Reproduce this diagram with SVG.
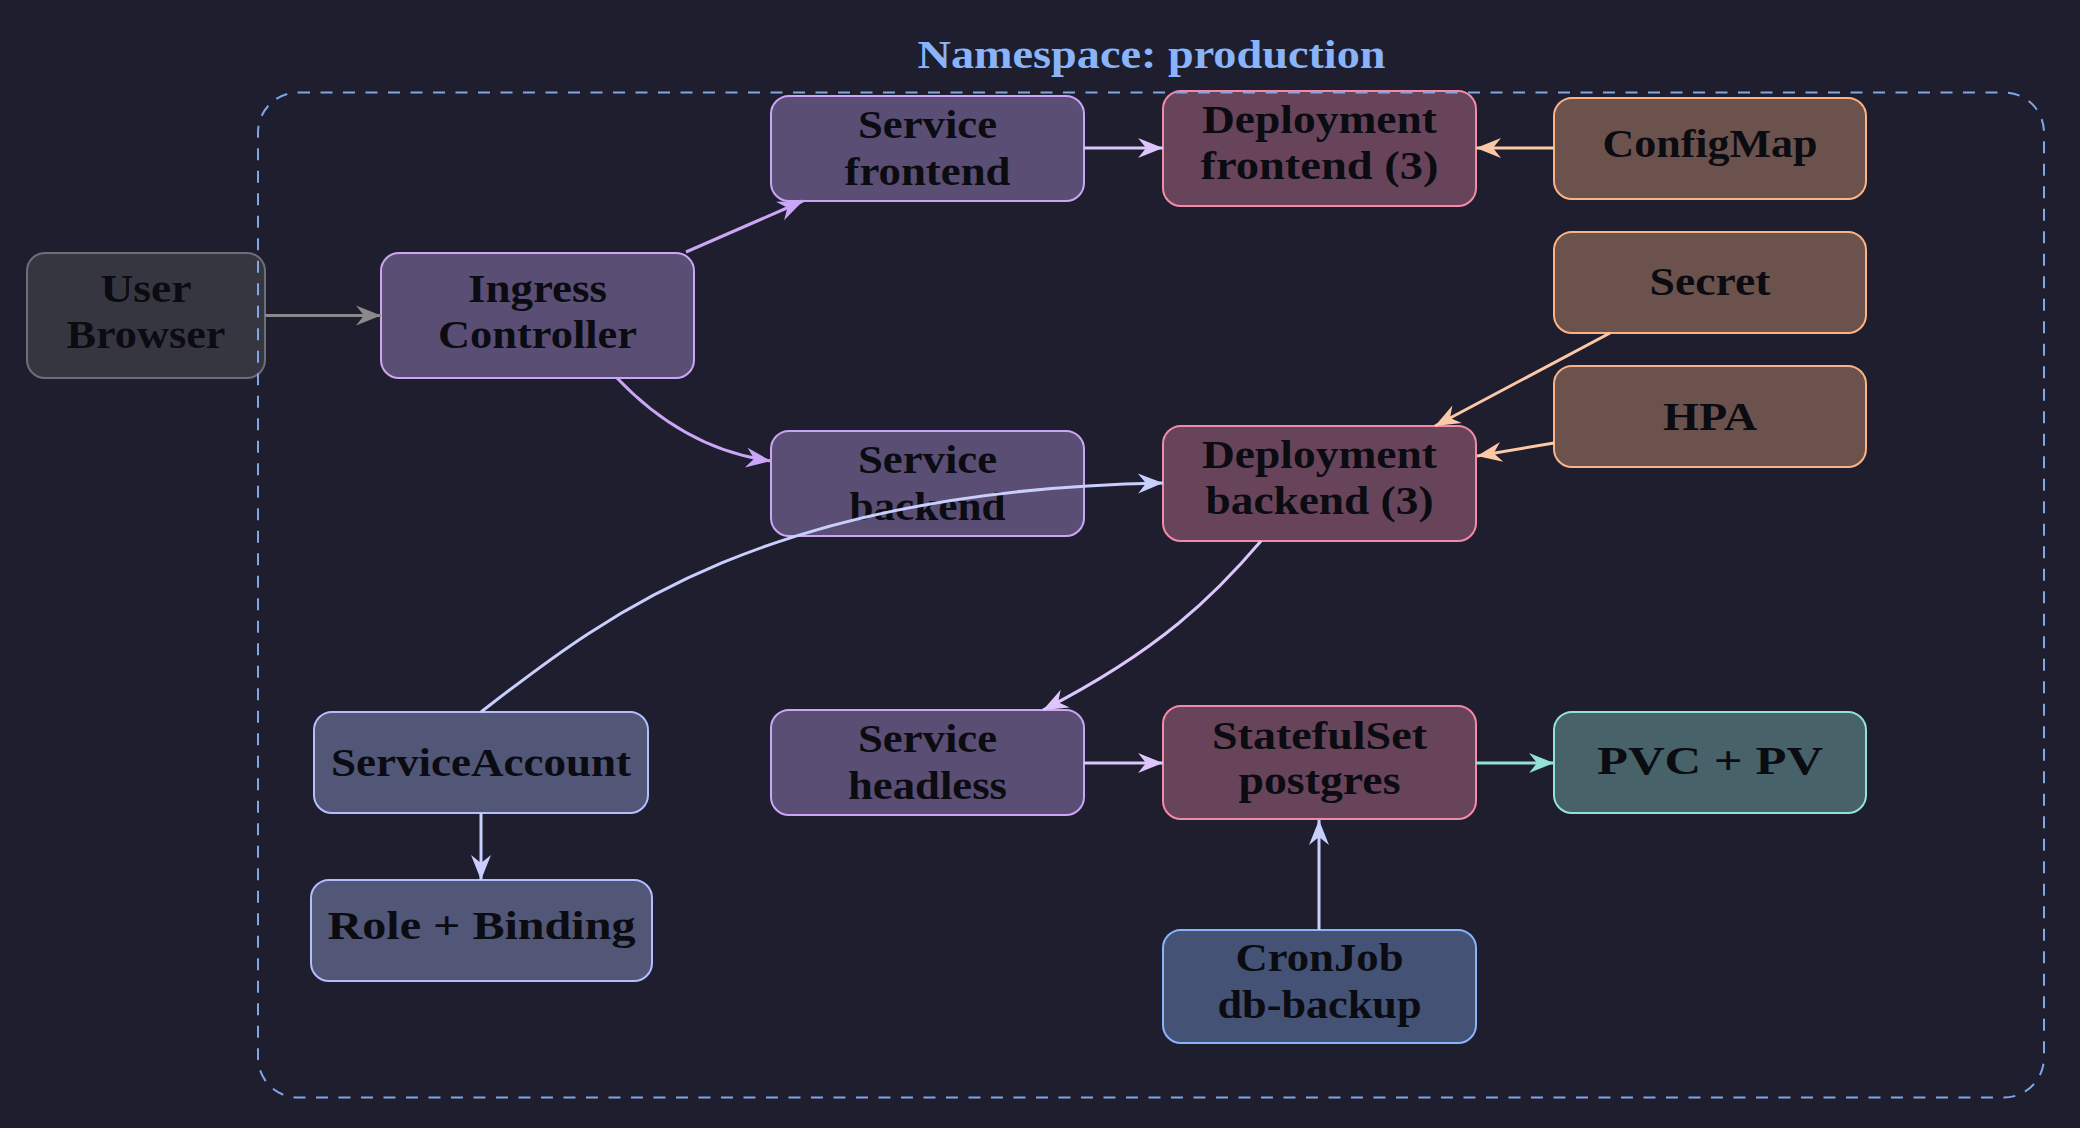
<svg xmlns="http://www.w3.org/2000/svg" width="2080" height="1128" viewBox="0 0 2080 1128">
<style>
  .node rect { stroke-width: 2; }
  .lbl { font-family: "Liberation Serif", "Times New Roman", serif; font-weight: bold; font-size: 39px; fill: #0b0b12; text-anchor: middle; }
  .gray rect { fill: #363641; stroke: #6c6e78; }
  .mauve rect { fill: #5a4e74; stroke: #cba6f7; }
  .pink rect { fill: #68445a; stroke: #f38ba8; }
  .peach rect { fill: #6b524d; stroke: #fab387; }
  .lav rect { fill: #525677; stroke: #b4befe; }
  .blue rect { fill: #445275; stroke: #89b4fa; }
  .teal rect { fill: #476268; stroke: #94e2d5; }
  .edge { fill: none; stroke-width: 3; }
  .title { font-family: "Liberation Serif", "Times New Roman", serif; font-weight: bold; font-size: 39px; fill: #89b4fa; text-anchor: middle; }
</style>
<defs>
  <marker id="aGray" markerUnits="userSpaceOnUse" viewBox="-27 -12 29 24" markerWidth="29" markerHeight="24" refX="0" refY="0" orient="auto"><path d="M0,0 L-25,-10 L-17,0 L-25,10 Z" fill="#8a8a8e"/></marker>
  <marker id="aMauve" markerUnits="userSpaceOnUse" viewBox="-27 -12 29 24" markerWidth="29" markerHeight="24" refX="0" refY="0" orient="auto"><path d="M0,0 L-25,-10 L-17,0 L-25,10 Z" fill="#cba6f7"/></marker>
  <marker id="aLMauve" markerUnits="userSpaceOnUse" viewBox="-27 -12 29 24" markerWidth="29" markerHeight="24" refX="0" refY="0" orient="auto"><path d="M0,0 L-25,-10 L-17,0 L-25,10 Z" fill="#dcc6fb"/></marker>
  <marker id="aPeach" markerUnits="userSpaceOnUse" viewBox="-27 -12 29 24" markerWidth="29" markerHeight="24" refX="0" refY="0" orient="auto"><path d="M0,0 L-25,-10 L-17,0 L-25,10 Z" fill="#fcc8a6"/></marker>
  <marker id="aLav" markerUnits="userSpaceOnUse" viewBox="-27 -12 29 24" markerWidth="29" markerHeight="24" refX="0" refY="0" orient="auto"><path d="M0,0 L-25,-10 L-17,0 L-25,10 Z" fill="#c9cffd"/></marker>
  <marker id="aTeal" markerUnits="userSpaceOnUse" viewBox="-27 -12 29 24" markerWidth="29" markerHeight="24" refX="0" refY="0" orient="auto"><path d="M0,0 L-25,-10 L-17,0 L-25,10 Z" fill="#94e2d5"/></marker>
</defs>
<rect x="0" y="0" width="2080" height="1128" fill="#1e1e2e"/>

<g id="nodes">
  <g id="user-browser" class="node gray">
    <rect x="27" y="253" width="238" height="125" rx="18"/>
    <text class="lbl" x="146" y="302" textLength="91" lengthAdjust="spacingAndGlyphs">User</text>
    <text class="lbl" x="146" y="348" textLength="159" lengthAdjust="spacingAndGlyphs">Browser</text>
  </g>
  <g id="ingress-controller" class="node mauve">
    <rect x="381" y="253" width="313" height="125" rx="18"/>
    <text class="lbl" x="537.5" y="302" textLength="139" lengthAdjust="spacingAndGlyphs">Ingress</text>
    <text class="lbl" x="537.5" y="348" textLength="199" lengthAdjust="spacingAndGlyphs">Controller</text>
  </g>
  <g id="service-frontend" class="node mauve">
    <rect x="771" y="96" width="313" height="105" rx="18"/>
    <text class="lbl" x="927.5" y="137.5" textLength="139" lengthAdjust="spacingAndGlyphs">Service</text>
    <text class="lbl" x="927.5" y="185" textLength="166" lengthAdjust="spacingAndGlyphs">frontend</text>
  </g>
  <g id="service-backend" class="node mauve">
    <rect x="771" y="431" width="313" height="105" rx="18"/>
    <text class="lbl" x="927.5" y="473" textLength="139" lengthAdjust="spacingAndGlyphs">Service</text>
    <text class="lbl" x="927.5" y="519.5" textLength="156" lengthAdjust="spacingAndGlyphs">backend</text>
  </g>
  <g id="service-headless" class="node mauve">
    <rect x="771" y="710" width="313" height="105" rx="18"/>
    <text class="lbl" x="927.5" y="752" textLength="139" lengthAdjust="spacingAndGlyphs">Service</text>
    <text class="lbl" x="927.5" y="799" textLength="159" lengthAdjust="spacingAndGlyphs">headless</text>
  </g>
  <g id="deployment-frontend" class="node pink">
    <rect x="1163" y="91" width="313" height="115" rx="18"/>
    <text class="lbl" x="1319.5" y="133" textLength="235" lengthAdjust="spacingAndGlyphs">Deployment</text>
    <text class="lbl" x="1319.5" y="179" textLength="238" lengthAdjust="spacingAndGlyphs">frontend (3)</text>
  </g>
  <g id="deployment-backend" class="node pink">
    <rect x="1163" y="426" width="313" height="115" rx="18"/>
    <text class="lbl" x="1319.5" y="468" textLength="235" lengthAdjust="spacingAndGlyphs">Deployment</text>
    <text class="lbl" x="1319.5" y="514" textLength="228" lengthAdjust="spacingAndGlyphs">backend (3)</text>
  </g>
  <g id="statefulset-postgres" class="node pink">
    <rect x="1163" y="706" width="313" height="113" rx="18"/>
    <text class="lbl" x="1319.5" y="748.5" textLength="215" lengthAdjust="spacingAndGlyphs">StatefulSet</text>
    <text class="lbl" x="1319.5" y="794" textLength="162" lengthAdjust="spacingAndGlyphs">postgres</text>
  </g>
  <g id="configmap" class="node peach">
    <rect x="1554" y="98" width="312" height="101" rx="18"/>
    <text class="lbl" x="1710" y="157" textLength="215" lengthAdjust="spacingAndGlyphs">ConfigMap</text>
  </g>
  <g id="secret" class="node peach">
    <rect x="1554" y="232" width="312" height="101" rx="18"/>
    <text class="lbl" x="1710" y="295" textLength="121" lengthAdjust="spacingAndGlyphs">Secret</text>
  </g>
  <g id="hpa" class="node peach">
    <rect x="1554" y="366" width="312" height="101" rx="18"/>
    <text class="lbl" x="1710" y="429.5" textLength="94" lengthAdjust="spacingAndGlyphs">HPA</text>
  </g>
  <g id="pvc-pv" class="node teal">
    <rect x="1554" y="712" width="312" height="101" rx="18"/>
    <text class="lbl" x="1710" y="774" textLength="226" lengthAdjust="spacingAndGlyphs">PVC + PV</text>
  </g>
  <g id="serviceaccount" class="node lav">
    <rect x="314" y="712" width="334" height="101" rx="18"/>
    <text class="lbl" x="481" y="776" textLength="300" lengthAdjust="spacingAndGlyphs">ServiceAccount</text>
  </g>
  <g id="role-binding" class="node lav">
    <rect x="311" y="880" width="341" height="101" rx="18"/>
    <text class="lbl" x="481.5" y="939" textLength="308" lengthAdjust="spacingAndGlyphs">Role + Binding</text>
  </g>
  <g id="cronjob-db-backup" class="node blue">
    <rect x="1163" y="930" width="313" height="113" rx="18"/>
    <text class="lbl" x="1319.5" y="971" textLength="168" lengthAdjust="spacingAndGlyphs">CronJob</text>
    <text class="lbl" x="1319.5" y="1018" textLength="204" lengthAdjust="spacingAndGlyphs">db-backup</text>
  </g>
</g>

<g id="namespace">
  <rect x="258" y="92.5" width="1786" height="1005" rx="40" fill="none" stroke="#7fa6ea" stroke-width="2" stroke-dasharray="12 10.5"/>
  <text class="title" x="1151.5" y="68" textLength="468" lengthAdjust="spacingAndGlyphs">Namespace: production</text>
</g>

<g id="connectors">
  <path class="edge" stroke="#8a8a8e" marker-end="url(#aGray)" d="M265,315.5 L381,315.5"/>
  <path class="edge" stroke="#cba6f7" marker-end="url(#aMauve)" d="M686,252 L803,201"/>
  <path class="edge" stroke="#cba6f7" marker-end="url(#aMauve)" d="M617,378 C655,418 705,452 771,461"/>
  <path class="edge" stroke="#dcc6fb" marker-end="url(#aLMauve)" d="M1084,148 L1163,148"/>
  <path class="edge" stroke="#fcc8a6" marker-end="url(#aPeach)" d="M1554,148 L1476,148"/>
  <path class="edge" stroke="#fcc8a6" marker-end="url(#aPeach)" d="M1610,333 L1435,426"/>
  <path class="edge" stroke="#fcc8a6" marker-end="url(#aPeach)" d="M1554,443 L1477,456"/>
  <path class="edge" stroke="#c9cffd" marker-end="url(#aLav)" d="M481,712 C600,620 760,490 1163,483"/>
  <path class="edge" stroke="#dcc6fb" marker-end="url(#aLMauve)" d="M1261,541 C1215,595 1160,650 1043,710"/>
  <path class="edge" stroke="#dcc6fb" marker-end="url(#aLMauve)" d="M1084,763 L1163,763"/>
  <path class="edge" stroke="#94e2d5" marker-end="url(#aTeal)" d="M1476,763 L1554,763"/>
  <path class="edge" stroke="#c9cffd" marker-end="url(#aLav)" d="M1319,930 L1319,820"/>
  <path class="edge" stroke="#c9cffd" marker-end="url(#aLav)" d="M481,813 L481,880"/>
</g>
</svg>
